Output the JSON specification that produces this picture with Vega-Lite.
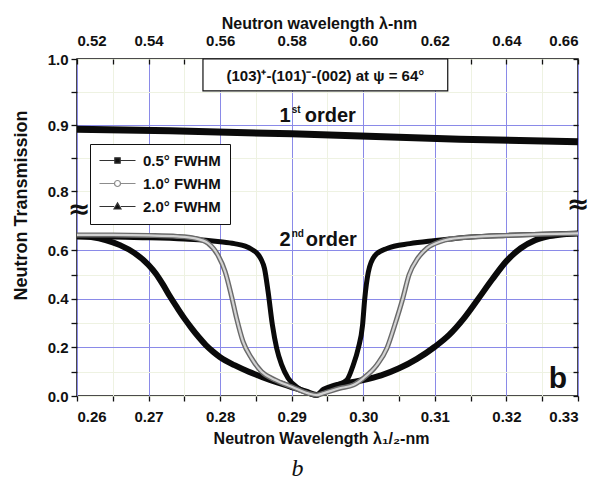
{
  "$schema": "https://vega.github.io/schema/vega-lite/v6.json",
  "width": 501,
  "height": 337,
  "autosize": {"type": "none"},
  "padding": {"left": 77, "top": 59, "right": 16, "bottom": 90},
  "background": "white",
  "config": {
    "font": "Liberation Sans",
    "view": {"stroke": "#111", "strokeWidth": 1.5},
    "axis": {
      "labelFont": "Liberation Sans", "labelFontSize": 15, "labelFontWeight": "bold", "labelColor": "#111",
      "titleFont": "Liberation Sans", "titleFontSize": 16, "titleFontWeight": "bold", "titleColor": "#111",
      "domain": false, "tickColor": "#111", "tickWidth": 1.3, "tickSize": 5
    }
  },
  "title": {"text": "b", "orient": "bottom", "font": "Liberation Serif", "fontSize": 24, "fontStyle": "italic", "fontWeight": "normal", "color": "#111", "dx": -30, "offset": 11},
  "datasets": {
    "curves": [
      {"s": "2.0° FWHM", "x": 0.260, "t": 0.660}, {"s": "2.0° FWHM", "x": 0.262, "t": 0.655}, {"s": "2.0° FWHM", "x": 0.264, "t": 0.643},
      {"s": "2.0° FWHM", "x": 0.266, "t": 0.622}, {"s": "2.0° FWHM", "x": 0.268, "t": 0.590}, {"s": "2.0° FWHM", "x": 0.270, "t": 0.540},
      {"s": "2.0° FWHM", "x": 0.271, "t": 0.505}, {"s": "2.0° FWHM", "x": 0.272, "t": 0.460}, {"s": "2.0° FWHM", "x": 0.273, "t": 0.410},
      {"s": "2.0° FWHM", "x": 0.274, "t": 0.364}, {"s": "2.0° FWHM", "x": 0.275, "t": 0.320}, {"s": "2.0° FWHM", "x": 0.276, "t": 0.280},
      {"s": "2.0° FWHM", "x": 0.277, "t": 0.243}, {"s": "2.0° FWHM", "x": 0.278, "t": 0.210}, {"s": "2.0° FWHM", "x": 0.279, "t": 0.183},
      {"s": "2.0° FWHM", "x": 0.280, "t": 0.160}, {"s": "2.0° FWHM", "x": 0.282, "t": 0.127}, {"s": "2.0° FWHM", "x": 0.284, "t": 0.100},
      {"s": "2.0° FWHM", "x": 0.286, "t": 0.077}, {"s": "2.0° FWHM", "x": 0.288, "t": 0.056}, {"s": "2.0° FWHM", "x": 0.290, "t": 0.037},
      {"s": "2.0° FWHM", "x": 0.292, "t": 0.018}, {"s": "2.0° FWHM", "x": 0.2935, "t": 0.004}, {"s": "2.0° FWHM", "x": 0.2945, "t": 0.026},
      {"s": "2.0° FWHM", "x": 0.296, "t": 0.043}, {"s": "2.0° FWHM", "x": 0.298, "t": 0.055}, {"s": "2.0° FWHM", "x": 0.300, "t": 0.066},
      {"s": "2.0° FWHM", "x": 0.3025, "t": 0.085}, {"s": "2.0° FWHM", "x": 0.305, "t": 0.114}, {"s": "2.0° FWHM", "x": 0.3075, "t": 0.153},
      {"s": "2.0° FWHM", "x": 0.310, "t": 0.203}, {"s": "2.0° FWHM", "x": 0.312, "t": 0.252}, {"s": "2.0° FWHM", "x": 0.314, "t": 0.318},
      {"s": "2.0° FWHM", "x": 0.316, "t": 0.398}, {"s": "2.0° FWHM", "x": 0.318, "t": 0.480}, {"s": "2.0° FWHM", "x": 0.320, "t": 0.556},
      {"s": "2.0° FWHM", "x": 0.322, "t": 0.609}, {"s": "2.0° FWHM", "x": 0.324, "t": 0.642}, {"s": "2.0° FWHM", "x": 0.326, "t": 0.659},
      {"s": "2.0° FWHM", "x": 0.328, "t": 0.667}, {"s": "2.0° FWHM", "x": 0.330, "t": 0.670},

      {"s": "0.5° FWHM", "x": 0.260, "t": 0.655}, {"s": "0.5° FWHM", "x": 0.265, "t": 0.655}, {"s": "0.5° FWHM", "x": 0.270, "t": 0.652},
      {"s": "0.5° FWHM", "x": 0.275, "t": 0.647}, {"s": "0.5° FWHM", "x": 0.278, "t": 0.642}, {"s": "0.5° FWHM", "x": 0.280, "t": 0.636},
      {"s": "0.5° FWHM", "x": 0.282, "t": 0.628}, {"s": "0.5° FWHM", "x": 0.2835, "t": 0.618}, {"s": "0.5° FWHM", "x": 0.2845, "t": 0.603},
      {"s": "0.5° FWHM", "x": 0.2851, "t": 0.590}, {"s": "0.5° FWHM", "x": 0.2857, "t": 0.565}, {"s": "0.5° FWHM", "x": 0.2862, "t": 0.525},
      {"s": "0.5° FWHM", "x": 0.2867, "t": 0.430}, {"s": "0.5° FWHM", "x": 0.2873, "t": 0.293}, {"s": "0.5° FWHM", "x": 0.2879, "t": 0.197},
      {"s": "0.5° FWHM", "x": 0.2886, "t": 0.128}, {"s": "0.5° FWHM", "x": 0.2895, "t": 0.073}, {"s": "0.5° FWHM", "x": 0.2909, "t": 0.033},
      {"s": "0.5° FWHM", "x": 0.2925, "t": 0.010}, {"s": "0.5° FWHM", "x": 0.2935, "t": 0.004}, {"s": "0.5° FWHM", "x": 0.2945, "t": 0.018},
      {"s": "0.5° FWHM", "x": 0.2963, "t": 0.045}, {"s": "0.5° FWHM", "x": 0.2977, "t": 0.066}, {"s": "0.5° FWHM", "x": 0.2986, "t": 0.128},
      {"s": "0.5° FWHM", "x": 0.2993, "t": 0.197}, {"s": "0.5° FWHM", "x": 0.2999, "t": 0.293}, {"s": "0.5° FWHM", "x": 0.3002, "t": 0.400},
      {"s": "0.5° FWHM", "x": 0.3007, "t": 0.510}, {"s": "0.5° FWHM", "x": 0.3016, "t": 0.578}, {"s": "0.5° FWHM", "x": 0.3033, "t": 0.608},
      {"s": "0.5° FWHM", "x": 0.3065, "t": 0.628}, {"s": "0.5° FWHM", "x": 0.3098, "t": 0.640}, {"s": "0.5° FWHM", "x": 0.3121, "t": 0.647},
      {"s": "0.5° FWHM", "x": 0.315, "t": 0.655}, {"s": "0.5° FWHM", "x": 0.320, "t": 0.662}, {"s": "0.5° FWHM", "x": 0.325, "t": 0.667},
      {"s": "0.5° FWHM", "x": 0.330, "t": 0.670},

      {"s": "1.0° FWHM", "x": 0.260, "t": 0.664}, {"s": "1.0° FWHM", "x": 0.265, "t": 0.664}, {"s": "1.0° FWHM", "x": 0.270, "t": 0.662},
      {"s": "1.0° FWHM", "x": 0.274, "t": 0.658}, {"s": "1.0° FWHM", "x": 0.2765, "t": 0.650}, {"s": "1.0° FWHM", "x": 0.2783, "t": 0.630},
      {"s": "1.0° FWHM", "x": 0.2797, "t": 0.580}, {"s": "1.0° FWHM", "x": 0.2807, "t": 0.512}, {"s": "1.0° FWHM", "x": 0.2816, "t": 0.410},
      {"s": "1.0° FWHM", "x": 0.2823, "t": 0.320}, {"s": "1.0° FWHM", "x": 0.2832, "t": 0.224}, {"s": "1.0° FWHM", "x": 0.2844, "t": 0.155},
      {"s": "1.0° FWHM", "x": 0.2858, "t": 0.100}, {"s": "1.0° FWHM", "x": 0.2877, "t": 0.066}, {"s": "1.0° FWHM", "x": 0.2900, "t": 0.038},
      {"s": "1.0° FWHM", "x": 0.2923, "t": 0.011}, {"s": "1.0° FWHM", "x": 0.2935, "t": 0.004}, {"s": "1.0° FWHM", "x": 0.2945, "t": 0.012},
      {"s": "1.0° FWHM", "x": 0.2967, "t": 0.032}, {"s": "1.0° FWHM", "x": 0.2986, "t": 0.045}, {"s": "1.0° FWHM", "x": 0.3000, "t": 0.073},
      {"s": "1.0° FWHM", "x": 0.3019, "t": 0.128}, {"s": "1.0° FWHM", "x": 0.3033, "t": 0.197}, {"s": "1.0° FWHM", "x": 0.3044, "t": 0.293},
      {"s": "1.0° FWHM", "x": 0.3055, "t": 0.400}, {"s": "1.0° FWHM", "x": 0.3064, "t": 0.500}, {"s": "1.0° FWHM", "x": 0.3076, "t": 0.567},
      {"s": "1.0° FWHM", "x": 0.3089, "t": 0.609}, {"s": "1.0° FWHM", "x": 0.3107, "t": 0.636}, {"s": "1.0° FWHM", "x": 0.3121, "t": 0.647},
      {"s": "1.0° FWHM", "x": 0.316, "t": 0.657}, {"s": "1.0° FWHM", "x": 0.320, "t": 0.662}, {"s": "1.0° FWHM", "x": 0.325, "t": 0.667},
      {"s": "1.0° FWHM", "x": 0.330, "t": 0.670}
    ],
    "first": [
      {"x": 0.26, "t": 0.894}, {"x": 0.273, "t": 0.8915}, {"x": 0.29, "t": 0.887}, {"x": 0.3135, "t": 0.879}, {"x": 0.33, "t": 0.875}
    ]
  },
  "layer": [
    {
      "data": {"name": "curves"},
      "transform": [{"filter": "datum.s == '2.0° FWHM'"}],
      "mark": {"type": "line", "interpolate": "monotone", "stroke": "#0a0a0a", "strokeWidth": 6},
      "encoding": {
        "x": {
          "field": "x", "type": "quantitative",
          "scale": {"domain": [0.26, 0.33], "nice": false, "zero": false},
          "title": "Neutron Wavelength λ₁/₂-nm",
          "axis": {
            "orient": "bottom",
            "values": [0.26, 0.265, 0.27, 0.275, 0.28, 0.285, 0.29, 0.295, 0.3, 0.305, 0.31, 0.315, 0.32, 0.325, 0.33],
            "labelExpr": "round(datum.value*1000) % 10 == 0 ? format(datum.value, '.2f') : ''",
            "grid": true,
            "gridColor": {"condition": {"test": "round(datum.value*1000) % 10 != 0", "value": "#eef2e2"}, "value": "#8a8ae8"},
            "gridWidth": 1,
            "tickSize": 5, "labelPadding": 8, "titlePadding": 6, "titleX": 244
          }
        },
        "y": {
          "field": "t", "type": "quantitative",
          "scale": {"domain": [0, 0.775, 1], "range": [337, 149, 0], "nice": false, "zero": false},
          "title": "Neutron Transmission",
          "axis": {
            "orient": "left",
            "values": [0, 0.1, 0.2, 0.3, 0.4, 0.5, 0.6, 0.8, 0.85, 0.9, 0.95, 1.0],
            "labelExpr": "indexof([0.1, 0.3, 0.5, 0.85, 0.95], datum.value) >= 0 ? '' : format(datum.value, '.1f')",
            "grid": true,
            "gridColor": {"condition": {"test": "indexof([0.2, 0.4, 0.6, 0.9], datum.value) < 0", "value": "#eef2e2"}, "value": "#8a8ae8"},
            "gridWidth": 1,
            "tickSize": 6, "labelPadding": 3, "titlePadding": 17, "titleFontSize": 18, "titleY": 146
          }
        }
      }
    },
    {
      "data": {"name": "first"},
      "mark": {"type": "line", "stroke": "#0a0a0a", "strokeWidth": 7},
      "encoding": {
        "x": {
          "field": "x", "type": "quantitative",
          "title": "Neutron wavelength λ-nm",
          "axis": {
            "orient": "top",
            "values": [0.26, 0.265, 0.27, 0.275, 0.28, 0.285, 0.29, 0.295, 0.3, 0.305, 0.31, 0.315, 0.32, 0.325, 0.33],
            "labelExpr": "round(datum.value*1000) % 10 == 0 ? format(datum.value*2, '.2f') : ''",
            "grid": false, "tickSize": -5, "labelPadding": 16, "titlePadding": 2, "titleX": 242
          }
        },
        "y": {
          "field": "t", "type": "quantitative",
          "title": null,
          "axis": {
            "orient": "right",
            "values": [0, 0.1, 0.2, 0.3, 0.4, 0.5, 0.6, 0.8, 0.85, 0.9, 0.95, 1.0],
            "labels": false, "grid": false, "tickSize": -5
          }
        }
      }
    },
    {
      "data": {"name": "curves"},
      "transform": [{"filter": "datum.s == '0.5° FWHM'"}],
      "mark": {"type": "line", "interpolate": "monotone", "stroke": "#0a0a0a", "strokeWidth": 5},
      "encoding": {
        "x": {"field": "x", "type": "quantitative", "axis": null},
        "y": {"field": "t", "type": "quantitative", "axis": null}
      }
    },
    {
      "data": {"name": "curves"},
      "transform": [{"filter": "datum.s == '1.0° FWHM'"}],
      "mark": {"type": "line", "interpolate": "monotone", "stroke": "#6a6a6a", "strokeWidth": 5},
      "encoding": {
        "x": {"field": "x", "type": "quantitative", "axis": null},
        "y": {"field": "t", "type": "quantitative", "axis": null}
      }
    },
    {
      "data": {"name": "curves"},
      "transform": [{"filter": "datum.s == '1.0° FWHM'"}],
      "mark": {"type": "line", "interpolate": "monotone", "stroke": "#d2d2d2", "strokeWidth": 2.2},
      "encoding": {
        "x": {"field": "x", "type": "quantitative", "axis": null},
        "y": {"field": "t", "type": "quantitative", "axis": null}
      }
    },
    {
      "data": {"name": "curves"},
      "mark": {"type": "point", "opacity": 0, "filled": true, "color": "#111", "size": 144, "strokeWidth": 1.2},
      "encoding": {
        "x": {"field": "x", "type": "quantitative", "axis": null},
        "y": {"field": "t", "type": "quantitative", "axis": null},
        "shape": {
          "field": "s", "type": "nominal", "title": null,
          "scale": {
            "domain": ["0.5° FWHM", "1.0° FWHM", "2.0° FWHM"],
            "range": [
              "M-3,0H-0.45M0.45,0H3M-0.45,-0.45H0.45V0.45H-0.45Z",
              "M-3,0H-0.5M0.5,0H3M-0.5,0A0.5,0.5 0 0,1 0.5,0A0.5,0.5 0 0,0 -0.5,0M-0.5,0A0.5,0.5 0 0,0 0.5,0A0.5,0.5 0 0,1 -0.5,0",
              "M-3,0H-0.55M0.55,0H3M0,-0.6L0.58,0.42H-0.58Z"
            ]
          },
          "legend": {
            "orient": "none", "legendX": 13, "legendY": 85, "title": null,
            "padding": 9, "strokeColor": "#111", "fillColor": "white",
            "symbolSize": 144, "symbolStrokeWidth": 1.2, "symbolOffset": 11, "labelOffset": 18,
            "symbolFillColor": "#111",
            "labelFont": "Liberation Sans", "labelFontSize": 15, "labelFontWeight": "bold", "labelColor": "#111",
            "rowPadding": 7, "labelLimit": 200
          }
        },
        "stroke": {
          "field": "s", "type": "nominal", "title": null,
          "scale": {"domain": ["0.5° FWHM", "1.0° FWHM", "2.0° FWHM"], "range": ["#333333", "#8c8c8c", "#333333"]}
        }
      }
    },
    {
      "data": {"values": [{"label": "box"}]},
      "mark": {"type": "rect", "fill": "white", "stroke": "#111", "strokeWidth": 1.2},
      "encoding": {
        "x": {"datum": 0.2776, "type": "quantitative", "axis": null},
        "x2": {"datum": 0.3118},
        "y": {"datum": 1.0, "type": "quantitative", "axis": null},
        "y2": {"datum": 0.952}
      }
    },
    {
      "data": {"values": [{"label": "(103)⁺-(101)⁻-(002)  at ψ = 64°"}]},
      "mark": {"type": "text", "font": "Liberation Sans", "fontSize": 15, "fontWeight": "bold", "align": "center", "baseline": "middle", "color": "#111"},
      "encoding": {
        "x": {"datum": 0.2947, "type": "quantitative", "axis": null},
        "y": {"datum": 0.975, "type": "quantitative", "axis": null},
        "text": {"field": "label"}
      }
    },
    {
      "data": {"values": [{"label": "1"}]},
      "mark": {"type": "text", "font": "Liberation Sans", "fontSize": 20, "fontWeight": "bold", "align": "right", "baseline": "alphabetic", "dx": -1, "color": "#111"},
      "encoding": {
        "x": {"datum": 0.29, "type": "quantitative", "axis": null},
        "y": {"datum": 0.905, "type": "quantitative", "axis": null},
        "text": {"field": "label"}
      }
    },
    {
      "data": {"values": [{"label": "st"}]},
      "mark": {"type": "text", "font": "Liberation Sans", "fontSize": 10, "fontWeight": "bold", "align": "left", "baseline": "alphabetic", "dy": -9, "color": "#111"},
      "encoding": {
        "x": {"datum": 0.29, "type": "quantitative", "axis": null},
        "y": {"datum": 0.905, "type": "quantitative", "axis": null},
        "text": {"field": "label"}
      }
    },
    {
      "data": {"values": [{"label": "order"}]},
      "mark": {"type": "text", "font": "Liberation Sans", "fontSize": 20, "fontWeight": "bold", "align": "left", "baseline": "alphabetic", "dx": 13, "color": "#111"},
      "encoding": {
        "x": {"datum": 0.29, "type": "quantitative", "axis": null},
        "y": {"datum": 0.905, "type": "quantitative", "axis": null},
        "text": {"field": "label"}
      }
    },
    {
      "data": {"values": [{"label": "2"}]},
      "mark": {"type": "text", "font": "Liberation Sans", "fontSize": 20, "fontWeight": "bold", "align": "right", "baseline": "alphabetic", "dx": -1, "color": "#111"},
      "encoding": {
        "x": {"datum": 0.29, "type": "quantitative", "axis": null},
        "y": {"datum": 0.6195, "type": "quantitative", "axis": null},
        "text": {"field": "label"}
      }
    },
    {
      "data": {"values": [{"label": "nd"}]},
      "mark": {"type": "text", "font": "Liberation Sans", "fontSize": 10, "fontWeight": "bold", "align": "left", "baseline": "alphabetic", "dy": -9, "color": "#111"},
      "encoding": {
        "x": {"datum": 0.29, "type": "quantitative", "axis": null},
        "y": {"datum": 0.6195, "type": "quantitative", "axis": null},
        "text": {"field": "label"}
      }
    },
    {
      "data": {"values": [{"label": "order"}]},
      "mark": {"type": "text", "font": "Liberation Sans", "fontSize": 20, "fontWeight": "bold", "align": "left", "baseline": "alphabetic", "dx": 14, "color": "#111"},
      "encoding": {
        "x": {"datum": 0.29, "type": "quantitative", "axis": null},
        "y": {"datum": 0.6195, "type": "quantitative", "axis": null},
        "text": {"field": "label"}
      }
    },
    {
      "data": {"values": [{"label": "b"}]},
      "mark": {"type": "text", "font": "Liberation Sans", "fontSize": 30, "fontWeight": "bold", "align": "center", "baseline": "alphabetic", "color": "#111"},
      "encoding": {
        "x": {"datum": 0.3272, "type": "quantitative", "axis": null},
        "y": {"datum": 0.034, "type": "quantitative", "axis": null},
        "text": {"field": "label"}
      }
    },
    {
      "data": {"values": [{"label": "≈"}]},
      "mark": {"type": "text", "font": "DejaVu Sans", "fontSize": 27, "fontWeight": "bold", "align": "center", "baseline": "middle", "color": "#111", "clip": false},
      "encoding": {
        "x": {"datum": 0.2603, "type": "quantitative", "axis": null},
        "y": {"datum": 0.766, "type": "quantitative", "axis": null},
        "text": {"field": "label"}
      }
    },
    {
      "data": {"values": [{"label": "≈"}]},
      "mark": {"type": "text", "font": "DejaVu Sans", "fontSize": 27, "fontWeight": "bold", "align": "center", "baseline": "middle", "color": "#111", "clip": false},
      "encoding": {
        "x": {"datum": 0.33, "type": "quantitative", "axis": null},
        "y": {"datum": 0.779, "type": "quantitative", "axis": null},
        "text": {"field": "label"}
      }
    }
  ]
}
